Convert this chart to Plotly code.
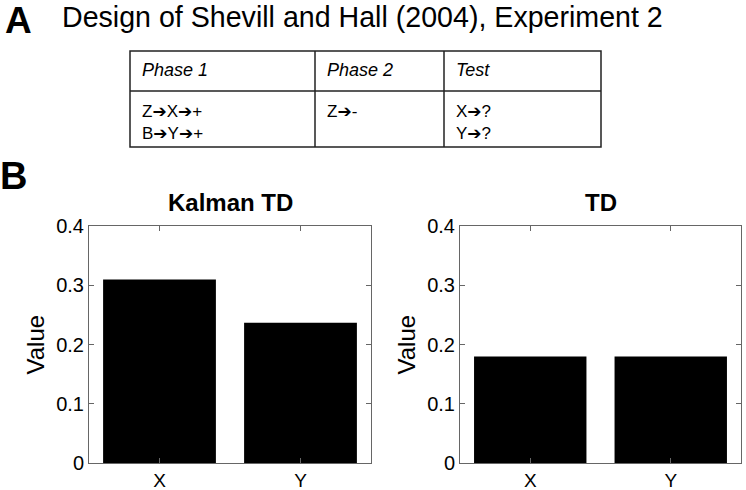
import plotly.graph_objects as go

categories = ["X", "Y"]
kalman_td = [0.310, 0.237]
td = [0.180, 0.180]
yticks = [0, 0.1, 0.2, 0.3, 0.4]
ytick_labels = ["0", "0.1", "0.2", "0.3", "0.4"]
panel_titles = ["Kalman TD", "TD"]
header_title = "Design of Shevill and Hall (2004), Experiment 2"
table_headers = ["Phase 1", "Phase 2", "Test"]
ARW = '<span style="font-family:DejaVu Sans">➔</span>'
table_body = [["Z", "X", "+"], ["B", "Y", "+"]], [["Z", "-"]], [["X", "?"], ["Y", "?"]]

W, H = 746, 490
def px(x): return x / W
def py(y): return 1 - y / H

fig = go.Figure()
fig.add_trace(go.Bar(x=categories, y=kalman_td, marker=dict(color="black", line=dict(width=0)),
                     width=0.8, xaxis="x", yaxis="y", showlegend=False, hoverinfo="skip"))
fig.add_trace(go.Bar(x=categories, y=td, marker=dict(color="black", line=dict(width=0)),
                     width=0.8, xaxis="x2", yaxis="y2", showlegend=False, hoverinfo="skip"))

FONT = "Arial, Liberation Sans, sans-serif"
axis_common = dict(showgrid=False, zeroline=False, showline=True, linecolor="#666666", linewidth=1,
                   mirror="ticks", ticks="inside", ticklen=5, tickcolor="#666666",
                   automargin=False)
yfont = dict(family=FONT, size=20, color="black")
xfont = dict(family=FONT, size=19, color="black")
ydom = [py(463.3), py(226)]
ytitle = dict(text="Value", font=dict(family=FONT, size=24, color="black"), standoff=4)
fig.update_layout(
    width=W, height=H, margin=dict(l=0, r=0, t=0, b=0),
    paper_bgcolor="white", plot_bgcolor="white",
    xaxis=dict(domain=[px(89), px(371)], anchor="y", range=[-0.5, 1.5], tickfont=xfont, **axis_common),
    yaxis=dict(domain=ydom, anchor="x", range=[0, 0.4], tickvals=yticks, ticktext=ytick_labels,
               title=ytitle, tickfont=yfont, **axis_common),
    xaxis2=dict(domain=[px(460), px(741)], anchor="y2", range=[-0.5, 1.5], tickfont=xfont, **axis_common),
    yaxis2=dict(domain=ydom, anchor="x2", range=[0, 0.4], tickvals=yticks, ticktext=ytick_labels,
                title=ytitle, tickfont=yfont, **axis_common),
)

ann = []
ann.append(dict(text="<b>A</b>", x=px(3), y=py(21), xref="paper", yref="paper", xanchor="left", yanchor="middle",
                showarrow=False, font=dict(family=FONT, size=37, color="black")))
ann.append(dict(text="<b>B</b>", x=px(-2), y=py(176), xref="paper", yref="paper", xanchor="left", yanchor="middle",
                showarrow=False, font=dict(family=FONT, size=38, color="black")))
ann.append(dict(text=header_title, x=px(60), y=py(17), xref="paper", yref="paper", xanchor="left", yanchor="middle",
                showarrow=False, font=dict(family=FONT, size=28.6, color="black")))
for t, xc in zip(panel_titles, [230, 600.5]):
    ann.append(dict(text="<b>%s</b>" % t, x=px(xc), y=py(202), xref="paper", yref="paper", xanchor="center",
                    yanchor="middle", showarrow=False, font=dict(family=FONT, size=24, color="black")))

# table
tx = [130, 315, 444, 601]
ty = [51, 91, 147]
shapes = []
lc = dict(color="#222222", width=1.5)
shapes.append(dict(type="rect", xref="paper", yref="paper", x0=px(tx[0]), x1=px(tx[3]), y0=py(ty[0]), y1=py(ty[2]), line=lc))
shapes.append(dict(type="line", xref="paper", yref="paper", x0=px(tx[0]), x1=px(tx[3]), y0=py(ty[1]), y1=py(ty[1]), line=lc))
for xv in tx[1:3]:
    shapes.append(dict(type="line", xref="paper", yref="paper", x0=px(xv), x1=px(xv), y0=py(ty[0]), y1=py(ty[2]), line=lc))
for i in range(3):
    ann.append(dict(text="<i>%s</i>" % table_headers[i], x=px(tx[i] + 10), y=py(70), xref="paper", yref="paper",
                    xanchor="left", yanchor="middle", showarrow=False,
                    font=dict(family=FONT, size=18, color="black")))
    body = "<br>".join(ARW.join(parts) for parts in table_body[i])
    ann.append(dict(text=body, x=px(tx[i] + 10), y=py(99), xref="paper", yref="paper",
                    xanchor="left", yanchor="top", align="left", showarrow=False,
                    font=dict(family=FONT, size=17, color="black")))

fig.update_layout(annotations=ann, shapes=shapes)
fig.write_html("out.html", config={"displayModeBar": False},
               post_script="document.body.style.margin='0';document.body.style.padding='0';")
